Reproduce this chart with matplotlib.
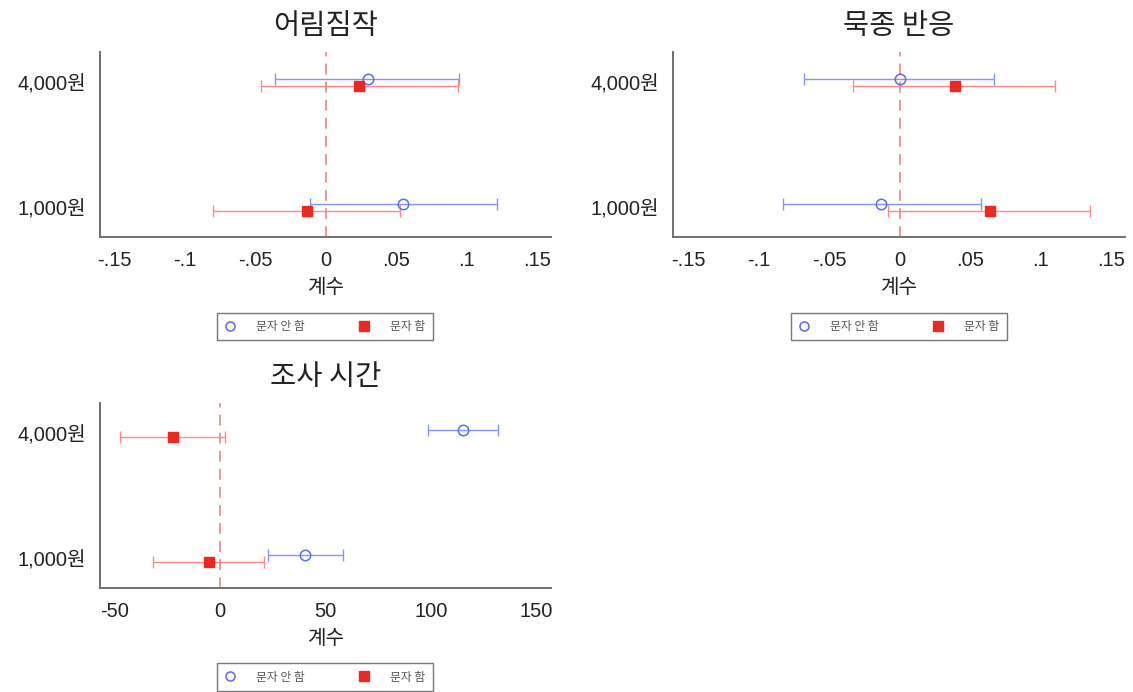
import numpy as np
import matplotlib
matplotlib.use('Agg')
import matplotlib.pyplot as plt
from matplotlib.lines import Line2D

plt.rcParams['font.family'] = ['Liberation Sans', 'Noto Sans CJK KR', 'DejaVu Sans']

### coefficient plots: 1,000 / 4,000 won incentive, with vs. without text message

levels = ['1,000원', '4,000원']
titles = ['어림짐작', '묵종 반응', '조사 시간']
series_names = ['문자 안 함', '문자 함']

# 어림짐작
p1_none_coef = [0.055, 0.030]
p1_none_lo = [-0.011, -0.036]
p1_none_hi = [0.122, 0.095]
p1_text_coef = [-0.013, 0.024]
p1_text_lo = [-0.080, -0.046]
p1_text_hi = [0.053, 0.094]

# 묵종 반응
p2_none_coef = [-0.013, 0.0]
p2_none_lo = [-0.083, -0.068]
p2_none_hi = [0.058, 0.067]
p2_text_coef = [0.064, 0.039]
p2_text_lo = [-0.008, -0.033]
p2_text_hi = [0.135, 0.110]

# 조사 시간
p3_none_coef = [40.5, 115.2]
p3_none_lo = [22.5, 98.5]
p3_none_hi = [58.1, 131.7]
p3_text_coef = [-5.5, -22.2]
p3_text_lo = [-31.7, -47.3]
p3_text_hi = [20.9, 2.5]

small_ticks = [-.15, -.1, -.05, 0, .05, .1, .15]
small_labels = ['-.15', '-.1', '-.05', '0', '.05', '.1', '.15']
time_ticks = [-50, 0, 50, 100, 150]
time_labels = ['-50', '0', '50', '100', '150']

W, H = 1133, 692
blue_line = '#8593ff'
blue_mark = '#5a6cf0'
red_line = '#ff8a85'
red_mark = '#ea2a20'
spine_col = '#707070'
cjk = ['Noto Sans CJK KR', 'DejaVu Sans']


def px_axes(fig, left, top, right, bottom):
    return fig.add_axes([left / W, 1 - bottom / H, (right - left) / W, (bottom - top) / H])


def draw_panel(ax, title, none_c, none_lo, none_hi, text_c, text_lo, text_hi,
               xlim, ticks, labels):
    y = np.arange(1, len(levels) + 1)
    off = 0.028
    nc, nl, nh = map(np.array, (none_c, none_lo, none_hi))
    tc, tl, th = map(np.array, (text_c, text_lo, text_hi))

    ax.axvline(0, color='#e8908c', lw=1.3, ls=(0, (6, 4)), zorder=1)

    ax.errorbar(nc, y + off, xerr=[nc - nl, nh - nc], fmt='none',
                ecolor=blue_line, elinewidth=1.0, capsize=4, capthick=1.0, zorder=2)
    ax.errorbar(tc, y - off, xerr=[tc - tl, th - tc], fmt='none',
                ecolor=red_line, elinewidth=1.0, capsize=4, capthick=1.0, zorder=2)
    ax.plot(nc, y + off, 'o', ms=7.5, mfc='none', mec=blue_mark, mew=1.1, zorder=3)
    ax.plot(tc, y - off, 's', ms=7.5, color=red_mark, mec=red_mark, zorder=3)

    ax.set_xlim(*xlim)
    ax.set_ylim(0.764, 2.244)
    ax.set_xticks(ticks)
    ax.set_xticklabels(labels, fontsize=14.5)
    ax.set_yticks(y)
    ax.set_yticklabels(levels, fontsize=14.5)
    ax.tick_params(axis='both', length=0, colors='#222222')
    ax.tick_params(axis='x', pad=10)
    ax.tick_params(axis='y', pad=10)
    for s in ['top', 'right']:
        ax.spines[s].set_visible(False)
    for s in ['left', 'bottom']:
        ax.spines[s].set_color(spine_col)
        ax.spines[s].set_linewidth(1.4)
    ax.set_xlabel('계수', fontsize=14.5, color='#222222', labelpad=5, family=cjk)
    ax.set_title(title, fontsize=20.5, pad=13, color='#222222', family=cjk)


def add_legend(fig, cx, cy):
    handles = [Line2D([], [], ls='none', marker='o', ms=6.5, mfc='none', mec=blue_mark, mew=1.1),
               Line2D([], [], ls='none', marker='s', ms=7.5, color=red_mark)]
    leg = fig.legend(handles, series_names, loc='center', ncol=2,
                     bbox_to_anchor=(cx / W, 1 - cy / H), bbox_transform=fig.transFigure,
                     prop={'family': cjk, 'size': 8.5},
                     labelcolor='#555555', frameon=True, fancybox=False,
                     edgecolor='#555555', columnspacing=4.5, handletextpad=1.7,
                     borderpad=0.6, handlelength=1.0, borderaxespad=0)
    leg.get_frame().set_linewidth(1.0)


fig = plt.figure(figsize=(W / 100, H / 100), dpi=100)

ax1 = px_axes(fig, 100, 52, 551, 237)
draw_panel(ax1, titles[0], p1_none_coef, p1_none_lo, p1_none_hi,
           p1_text_coef, p1_text_lo, p1_text_hi, (-0.16, 0.16), small_ticks, small_labels)
add_legend(fig, 325, 326.5)

ax2 = px_axes(fig, 673, 52, 1125, 237)
draw_panel(ax2, titles[1], p2_none_coef, p2_none_lo, p2_none_hi,
           p2_text_coef, p2_text_lo, p2_text_hi, (-0.161, 0.16), small_ticks, small_labels)
add_legend(fig, 899, 326.5)

ax3 = px_axes(fig, 100, 403, 551, 588)
draw_panel(ax3, titles[2], p3_none_coef, p3_none_lo, p3_none_hi,
           p3_text_coef, p3_text_lo, p3_text_hi, (-57, 157), time_ticks, time_labels)
add_legend(fig, 325, 677)

fig.savefig('out.png', dpi=100)
